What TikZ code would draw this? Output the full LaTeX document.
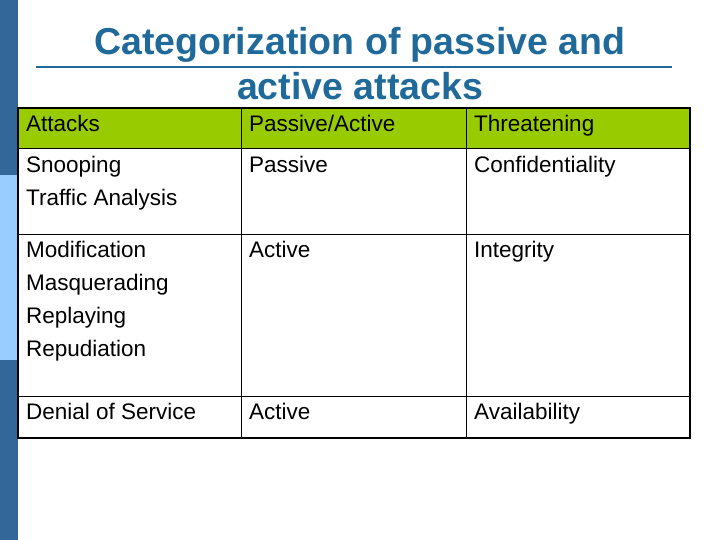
\documentclass[tikz,border=0pt]{standalone}
\usepackage{fontspec}
\setmainfont{Liberation Sans}
\definecolor{barD}{HTML}{336699}
\definecolor{barL}{HTML}{99CCFF}
\definecolor{ttl}{HTML}{1F6A9A}
\definecolor{hdr}{HTML}{99CC00}
\begin{document}
\begin{tikzpicture}[x=1pt,y=-1pt,
  cell/.style={anchor=north west,inner sep=0pt,align=left,font=\fontsize{22.5}{33}\selectfont},
  ttlstyle/.style={align=center,font=\bfseries\fontsize{37.5}{45}\selectfont,text=ttl}]
\useasboundingbox (0,0) rectangle (720,540);
\fill[barD] (0,0) rectangle (18,175);
\fill[barL] (0,175) rectangle (18,360);
\fill[barD] (0,360) rectangle (18,540);
\draw[ttl,line width=2.5pt] (36,67) -- (672,67);
\node[ttlstyle] (title) at (360,64) {Categorization of passive and\\active attacks};
\fill[hdr] (18,108) rectangle (690,148);
\draw[line width=0.8pt] (18,148) -- (690,148) (18,234) -- (690,234) (18,396) -- (690,396)
  (241,108) -- (241,438) (466,108) -- (466,438);
\draw[line width=2.2pt] (18,108) rectangle (690,438);
\node[cell] (a1) at (26,115) {Attacks};
\node[cell] (b1) at (249,115) {Passive/Active};
\node[cell] (c1) at (474,115) {Threatening};
\node[cell] (a2) at (26,156) {Snooping\\Traffic Analysis};
\node[cell] (b2) at (249,156) {Passive};
\node[cell] (c2) at (474,156) {Confidentiality};
\node[cell] (a3) at (26,241) {Modification\\Masquerading\\Replaying\\Repudiation};
\node[cell] (b3) at (249,241) {Active};
\node[cell] (c3) at (474,241) {Integrity};
\node[cell] (a4) at (26,403) {Denial of Service};
\node[cell] (b4) at (249,403) {Active};
\node[cell] (c4) at (474,403) {Availability};
\end{tikzpicture}
\end{document}
